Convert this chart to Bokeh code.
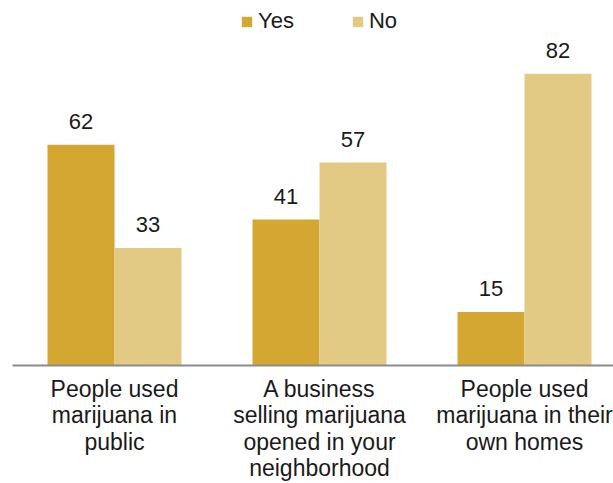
from bokeh.plotting import figure
from bokeh.models import ColumnDataSource, Range1d, FixedTicker, LabelSet, Legend, LegendItem
from bokeh.transform import dodge
from bokeh.core.properties import value
from bokeh.embed import file_html
from bokeh.resources import INLINE

# ---- data ----
categories = [
    "People used marijuana in public",
    "A business selling marijuana opened in your neighborhood",
    "People used marijuana in their own homes",
]
tick_labels = [
    "People used\nmarijuana in\npublic",
    "A business\nselling marijuana\nopened in your\nneighborhood",
    "People used\nmarijuana in their\nown homes",
]
series_names = ["Yes", "No"]
yes_values = [62, 41, 15]
no_values = [33, 57, 82]

YES_COLOR = "#D3A731"
NO_COLOR = "#E2CA85"
TEXT_COLOR = "#1a1a1a"
FONT = "Liberation Sans"

xpos = list(range(len(categories)))
src = ColumnDataSource(dict(
    x=xpos,
    yes=yes_values,
    no=no_values,
    yes_lbl=[str(v) for v in yes_values],
    no_lbl=[str(v) for v in no_values],
))

p = figure(
    frame_width=601, frame_height=357,
    output_backend="svg", toolbar_location=None,
    x_range=Range1d(-0.4976, 2.4341),
    y_range=Range1d(0, 100.3),
    min_border_left=12, min_border_right=0, min_border_top=8, min_border_bottom=0,
)

bw = 0.3268
off = bw / 2
r_yes = p.vbar(x=dodge("x", -off), top="yes", width=bw, source=src,
               fill_color=YES_COLOR, line_color=None)
r_no = p.vbar(x=dodge("x", off), top="no", width=bw, source=src,
              fill_color=NO_COLOR, line_color=None)

for col, lab, o in (("yes", "yes_lbl", -off), ("no", "no_lbl", off)):
    ls = LabelSet(x=dodge("x", o), y=col, text=lab, source=src,
                  text_align="center", text_baseline="alphabetic", y_offset=16,
                  text_font=value(FONT), text_font_size=value("22px"),
                  text_color=value(TEXT_COLOR))
    p.add_layout(ls)

legend = Legend(
    items=[LegendItem(label=series_names[0], renderers=[r_yes]),
           LegendItem(label=series_names[1], renderers=[r_no])],
    orientation="horizontal", location=(228, 331),
    glyph_width=13, glyph_height=13, label_standoff=5, spacing=57,
    padding=0, margin=0, border_line_color=None, background_fill_alpha=0,
    label_text_font=FONT, label_text_font_size="22px", label_text_color=TEXT_COLOR,
)
p.add_layout(legend)

p.xaxis.ticker = FixedTicker(ticks=xpos)
p.xaxis.major_label_overrides = {i: t for i, t in zip(xpos, tick_labels)}
p.xaxis.major_tick_line_color = None
p.xaxis.minor_tick_line_color = None
p.xaxis.axis_line_color = "#8c8c8c"
p.xaxis.axis_line_width = 2
p.xaxis.major_label_standoff = 4
p.xaxis.major_label_text_font = FONT
p.xaxis.major_label_text_font_size = "23px"
p.xaxis.major_label_text_color = TEXT_COLOR
p.xaxis.major_label_text_line_height = 1.02

p.yaxis.visible = False
p.xgrid.visible = False
p.ygrid.visible = False
p.outline_line_color = None

open("out.html", "w").write(file_html(p, INLINE))
